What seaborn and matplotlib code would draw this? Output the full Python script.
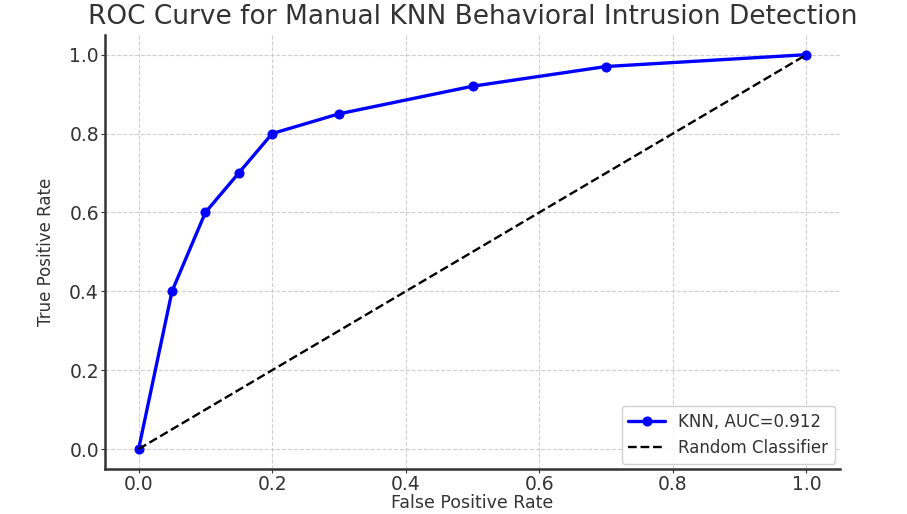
import numpy as np
import pandas as pd
import matplotlib
matplotlib.use("Agg")
import matplotlib.pyplot as plt
import seaborn as sns

# ROC points
fpr = [0.0, 0.05, 0.1, 0.15, 0.2, 0.3, 0.5, 0.7, 1.0]
tpr = [0.0, 0.4, 0.6, 0.7, 0.8, 0.85, 0.92, 0.97, 1.0]
auc_label = "KNN, AUC=0.912"
diag = [0.0, 1.0]

sns.set_style("ticks")
plt.rcParams['font.family'] = ['DejaVu Sans']

roc = pd.DataFrame({'FPR': fpr, 'TPR': tpr})
rand = pd.DataFrame({'FPR': diag, 'TPR': diag})

fig = plt.figure(figsize=(9.07, 5.14), dpi=100)
ax = fig.add_axes([0.116, 0.088, 0.81, 0.844])

sns.lineplot(x='FPR', y='TPR', data=roc, ax=ax, color='blue', marker='o',
             markersize=6.5, markeredgecolor='blue', linewidth=2.4, label=auc_label)
sns.lineplot(x='FPR', y='TPR', data=rand, ax=ax, color='black', linestyle='--',
             linewidth=1.7, label='Random Classifier')

ax.set_xlim(-0.05, 1.05)
ax.set_ylim(-0.05, 1.05)
ax.set_xticks([0.0, 0.2, 0.4, 0.6, 0.8, 1.0])
ax.set_yticks([0.0, 0.2, 0.4, 0.6, 0.8, 1.0])
ax.tick_params(labelsize=13.5, colors='#333333', length=3, pad=1.5)
ax.grid(True, linestyle='--', color='#bbbbbb', linewidth=0.8, alpha=0.7)
ax.set_xlabel('False Positive Rate', fontsize=12.5, color='#333333', labelpad=0)
ax.set_ylabel('True Positive Rate', fontsize=12, color='#333333', labelpad=10)
ax.set_title('ROC Curve for Manual KNN Behavioral Intrusion Detection',
             fontsize=19, color='#333333', pad=8)
sns.despine(ax=ax)
for s in ['left', 'bottom']:
    ax.spines[s].set_linewidth(1.8)
    ax.spines[s].set_color('#333333')

leg = ax.legend(loc='lower right', fontsize=12, framealpha=0.9,
                borderaxespad=0.3, handlelength=2.2)
for t in leg.get_texts():
    t.set_color('#333333')

plt.savefig('out.png', dpi=100)
